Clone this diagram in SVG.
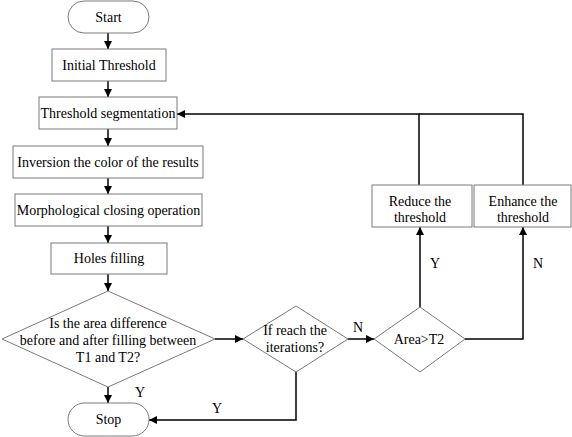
<svg xmlns="http://www.w3.org/2000/svg" width="572" height="437" viewBox="0 0 572 437">
<style>
.n{fill:#fff;stroke:#7a7a7a;stroke-width:1}
.t{font-family:"Liberation Serif","Times New Roman",serif;font-size:14px;fill:#000;text-anchor:middle}
.c{fill:none;stroke:#000;stroke-width:1.5}
</style>
<defs>
<marker id="ah" viewBox="0 0 10 10" refX="10" refY="5" markerWidth="8" markerHeight="8" markerUnits="userSpaceOnUse" orient="auto">
<path d="M0,0 L10,5 L0,10 z" fill="#000"/>
</marker>
</defs>
<rect width="572" height="437" fill="#fff"/>
<g id="connectors">
<path class="c" d="M108,33 V49" marker-end="url(#ah)"/>
<path class="c" d="M108,81 V97" marker-end="url(#ah)"/>
<path class="c" d="M108,129 V146" marker-end="url(#ah)"/>
<path class="c" d="M108,178 V194" marker-end="url(#ah)"/>
<path class="c" d="M108,226 V243" marker-end="url(#ah)"/>
<path class="c" d="M108,274 V291" marker-end="url(#ah)"/>
<path class="c" d="M108,387 V403" marker-end="url(#ah)"/>
<path class="c" d="M215,339 H243" marker-end="url(#ah)"/>
<path class="c" d="M348,339 H374" marker-end="url(#ah)"/>
<path class="c" d="M296,372 V420 H149" marker-end="url(#ah)"/>
<path class="c" d="M420,307 V227" marker-end="url(#ah)"/>
<path class="c" d="M465,339 H523 V227" marker-end="url(#ah)"/>
<path class="c" d="M419,185 V114 H177" marker-end="url(#ah)"/>
<path class="c" d="M523,185 V114 H419"/>
<text class="t" x="140" y="397">Y</text>
<text class="t" x="217" y="413">Y</text>
<text class="t" x="358" y="332">N</text>
<text class="t" x="435" y="268">Y</text>
<text class="t" x="538" y="268">N</text>
</g>
<g id="start">
<rect class="n" x="68" y="1" width="81" height="32" rx="16"/>
<text class="t" x="108.5" y="22">Start</text>
</g>
<g id="initial">
<rect class="n" x="52" y="49" width="114" height="32"/>
<text class="t" x="109" y="70">Initial Threshold</text>
</g>
<g id="segmentation">
<rect class="n" x="39" y="97" width="138" height="32"/>
<text class="t" x="108" y="118">Threshold segmentation</text>
</g>
<g id="inversion">
<rect class="n" x="13" y="146" width="190" height="32"/>
<text class="t" x="108" y="167">Inversion the color of the results</text>
</g>
<g id="morph">
<rect class="n" x="15" y="194" width="187" height="32"/>
<text class="t" x="108.5" y="215">Morphological closing operation</text>
</g>
<g id="holes">
<rect class="n" x="51" y="243" width="116" height="31"/>
<text class="t" x="109" y="263">Holes filling</text>
</g>
<g id="area-diff">
<polygon class="n" points="108,291 215,339 108,387 2,339"/>
<text class="t" x="108" y="328">Is the area difference</text>
<text class="t" x="108" y="345">before and after filling between</text>
<text class="t" x="108" y="362">T1 and T2?</text>
</g>
<g id="iterations">
<polygon class="n" points="296,306 348,339 296,372 243,339"/>
<text class="t" x="295" y="335">If reach the</text>
<text class="t" x="295" y="352">iterations?</text>
</g>
<g id="area-t2">
<polygon class="n" points="420,307 465,339 420,372 374,339"/>
<text class="t" x="419" y="344">Area&gt;T2</text>
</g>
<g id="reduce">
<rect class="n" x="372" y="185" width="100" height="42"/>
<text class="t" x="420" y="206">Reduce the</text>
<text class="t" x="420" y="222">threshold</text>
</g>
<g id="enhance">
<rect class="n" x="474" y="185" width="97" height="42"/>
<text class="t" x="523" y="206">Enhance the</text>
<text class="t" x="523" y="222">threshold</text>
</g>
<g id="stop">
<rect class="n" x="68" y="403" width="81" height="33" rx="16.5"/>
<text class="t" x="108.5" y="424">Stop</text>
</g>
</svg>
